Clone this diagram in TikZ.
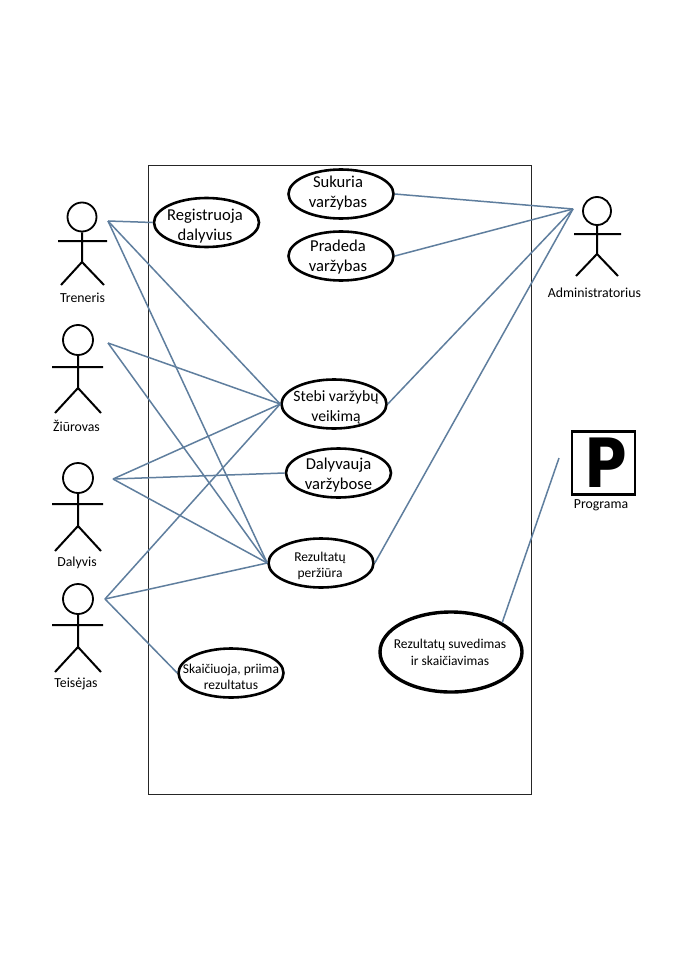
\documentclass[tikz,border=0pt]{standalone}
\usepackage{fontspec}
\setmainfont{Carlito}
\newfontfamily\pfont{DejaVu Sans}
\usetikzlibrary{shapes.geometric}
\definecolor{conn}{HTML}{5F7E9E}
\newcommand{\fsz}[2]{\fontsize{#1}{#2}\selectfont}
\tikzset{
  usecase/.style={draw=black,ellipse,line width=2.6pt,minimum width=#1,minimum height=49pt,inner sep=0pt},
  usecase/.default=105pt,
  uctextbig/.style={align=center,inner sep=0pt,font=\fsz{16.6}{20.5}},
  uctextmid/.style={align=center,inner sep=0pt,font=\fsz{15.7}{20}},
  uctextsmall/.style={align=center,inner sep=0pt,font=\fsz{13.5}{16.5}},
  actorlabel/.style={inner sep=0pt,font=\fsz{13.8}{15}},
  link/.style={draw=conn,line width=1.5pt},
  head/.style={draw=black,circle,line width=1.8pt,inner sep=0pt,minimum size=#1},
  limb/.style={draw=black,line width=2pt}
}
\begin{document}
\begin{tikzpicture}[x=1pt,y=-1pt]
\useasboundingbox (0,0) rectangle (679,960);
\fill[white] (0,0) rectangle (679,960);
% system frame
\node[draw=black!85,line width=1pt,rectangle,inner sep=0pt,minimum width=383pt,minimum height=628pt] (frame) at (339.5,480) {};
% use cases
\node[usecase] (reg) at (206.5,222.5) {};
\node[uctextbig] (regt) at (205,226) {Registruoja\\dalyvius};
\node[usecase] (suk) at (341,194) {};
\node[uctextbig] (sukt) at (338,193) {Sukuria\\varžybas};
\node[usecase] (pra) at (341,256) {};
\node[uctextbig] (prat) at (338,257) {Pradeda\\varžybas};
\node[usecase] (ste) at (334,404) {};
\node[uctextmid] (stet) at (336,407) {Stebi varžybų\\veikimą};
\node[usecase] (dal) at (338.5,473) {};
\node[uctextbig] (dalt) at (338.5,475) {Dalyvauja\\varžybose};
\node[usecase] (rez) at (321,563) {};
\node[uctextsmall] (rezt) at (320,566) {Rezultatų\\peržiūra};
\node[usecase] (ska) at (231,673) {};
\node[uctextsmall] (skat) at (231,677) {Skaičiuoja, priima\\rezultatus};
\node[usecase=142pt,minimum height=80pt,line width=3.4pt] (sum) at (451,652) {};
\node[uctextsmall] (sumt) at (450,652.5) {Rezultatų suvedimas\\ir skaičiavimas};
% actors
\node[head=29pt] (trh) at (82,217) {};
\draw[limb] (trh.south) -- (82,262) -- (61,285) (82,262) -- (104,285) (58,241) -- (107,241);
\node[actorlabel] (trl) at (82.5,298) {Treneris};
\node[head=30pt] (ziu) at (78,340) {};
\draw[limb] (ziu.south) -- (78,388) -- (55,413) (78,388) -- (101,413) (52,367) -- (103,367);
\node[actorlabel] (zil) at (76.5,425.5) {Žiūrovas};
\node[head=30pt] (dah) at (78,478) {};
\draw[limb] (dah.south) -- (78,526) -- (55,551) (78,526) -- (101,551) (52,504) -- (103,504);
\node[actorlabel] (dall) at (77,563) {Dalyvis};
\node[head=30pt] (teh) at (78,599) {};
\draw[limb] (teh.south) -- (78,647) -- (55,672) (78,647) -- (101,672) (52,625) -- (103,625);
\node[actorlabel] (tel) at (76,684) {Teisėjas};
\node[head=28pt] (adh) at (597,211) {};
\draw[limb] (adh.south) -- (597,254) -- (576,276) (597,254) -- (618,276) (574,234) -- (621,234);
\node[actorlabel] (adl) at (594.5,293) {Administratorius};
% program
\node[draw=black,line width=2.6pt,rectangle,inner sep=0pt,minimum size=63pt] (prog) at (603.5,463) {};
\node[inner sep=0pt,transform shape,xscale=.86,font={\pfont\bfseries\fsz{68}{68}}] (progp) at (606,462.5) {P};
\node[actorlabel] (progl) at (601,505) {Programa};
% connector ends
\coordinate (ptr) at (108,221);
\coordinate (pzi) at (108,343);
\coordinate (pda) at (113,479);
\coordinate (pte) at (105,599);
\coordinate (pad) at (573,209);
\coordinate (ppr) at (559,458);
% connectors
\draw[link] (ptr) -- (reg.west);
\draw[link] (ptr) -- (ste.west);
\draw[link] (ptr) -- (rez.west);
\draw[link] (pzi) -- (ste.west);
\draw[link] (pzi) -- (rez.west);
\draw[link] (pda) -- (ste.west);
\draw[link] (pda) -- (dal.west);
\draw[link] (pda) -- (rez.west);
\draw[link] (pte) -- (ste.west);
\draw[link] (pte) -- (rez.west);
\draw[link] (pte) -- (ska.west);
\draw[link] (suk.east) -- (pad);
\draw[link] (pra.east) -- (pad);
\draw[link] (ste.east) -- (pad);
\draw[link] (rez.east) -- (pad);
\draw[link] (sum.30) -- (ppr);
\end{tikzpicture}
\end{document}
